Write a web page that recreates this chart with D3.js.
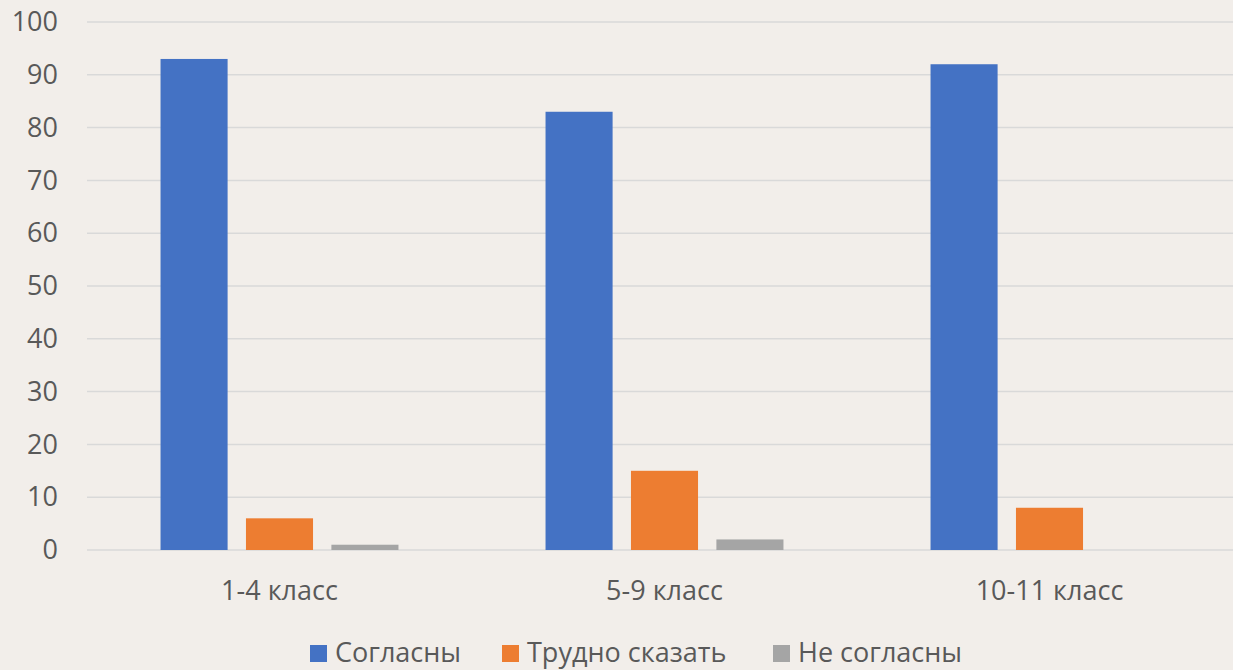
<!DOCTYPE html>
<html>
<head>
<meta charset="utf-8">
<script src="https://cdn.jsdelivr.net/npm/d3@7"></script>
<style>
  body { margin: 0; background: #f2eeea; }
  svg { display: block; font-family: "Open Sans", "Noto Sans", sans-serif; }
</style>
</head>
<body>
<div id="chart"></div>
<script>
// chart data
var categories = ["1-4 класс", "5-9 класс", "10-11 класс"];
var seriesNames = ["Согласны", "Трудно сказать", "Не согласны"];
var agree = [93, 83, 92];
var hardToSay = [6, 15, 8];
var disagree = [1, 2, 0];
var yTicks = [0, 10, 20, 30, 40, 50, 60, 70, 80, 90, 100];
var colors = ["#4472c4", "#ed7d31", "#a5a5a5"];

var seriesValues = [agree, hardToSay, disagree];

var W = 1233, H = 670;
var plotLeft = 87, plotTop = 22, plotBottom = 550;

var svg = d3.select("#chart")
  .append("svg")
    .attr("width", W)
    .attr("height", H);

svg.append("rect")
  .attr("width", W)
  .attr("height", H)
  .attr("fill", "#f2eeea");

// scales
var x0 = d3.scaleBand()
  .domain(categories)
  .range([plotLeft, 1242])
  .paddingInner(0.382)
  .paddingOuter(0.191);

var x1 = d3.scaleBand()
  .domain(seriesNames)
  .range([0, x0.bandwidth()])
  .paddingInner(0.215);

var y = d3.scaleLinear()
  .domain([0, 100])
  .range([plotBottom, plotTop]);

// gridlines
svg.append("g")
  .selectAll("line")
  .data(yTicks)
  .enter()
  .append("line")
    .attr("x1", plotLeft)
    .attr("x2", W)
    .attr("y1", function(d) { return y(d); })
    .attr("y2", function(d) { return y(d); })
    .attr("stroke", "#d9d9d9")
    .attr("stroke-width", 1.5);

// y axis labels
var yAxis = svg.append("g")
  .attr("transform", "translate(" + (plotLeft - 29) + ",0)")
  .call(d3.axisLeft(y).tickValues(yTicks).tickSize(0).tickPadding(0));
yAxis.select(".domain").remove();
yAxis.selectAll("text")
  .attr("fill", "#595959")
  .style("font-size", "27px")
  .style("font-family", "'Open Sans', 'Noto Sans', sans-serif");

// bars
var groups = svg.append("g")
  .selectAll("g")
  .data(categories)
  .enter()
  .append("g")
    .attr("transform", function(d) { return "translate(" + x0(d) + ",0)"; });

groups.selectAll("rect")
  .data(function(d, i) {
    return seriesNames.map(function(s, j) { return {name: s, value: seriesValues[j][i], color: colors[j]}; });
  })
  .enter()
  .append("rect")
    .attr("x", function(d) { return x1(d.name); })
    .attr("y", function(d) { return y(d.value); })
    .attr("width", x1.bandwidth())
    .attr("height", function(d) { return y(0) - y(d.value); })
    .attr("fill", function(d) { return d.color; });

// x axis labels
var xAxis = svg.append("g")
  .attr("transform", "translate(0," + (plotBottom + 31) + ")")
  .call(d3.axisBottom(x0).tickSize(0).tickPadding(0));
xAxis.select(".domain").remove();
xAxis.selectAll("text")
  .attr("fill", "#595959")
  .style("font-size", "27px")
  .style("font-family", "'Open Sans', 'Noto Sans', sans-serif");

// legend
var legendX = [310, 502, 773];
var legend = svg.append("g")
  .selectAll("g")
  .data(seriesNames)
  .enter()
  .append("g")
    .attr("transform", function(d, i) { return "translate(" + legendX[i] + ",645)"; });

legend.append("rect")
  .attr("width", 17)
  .attr("height", 17)
  .attr("fill", function(d, i) { return colors[i]; });

legend.append("text")
  .attr("x", 25)
  .attr("y", 8)
  .attr("dy", "0.35em")
  .attr("fill", "#595959")
  .style("font-size", "27px")
  .text(function(d) { return d; });
</script>
</body>
</html>
